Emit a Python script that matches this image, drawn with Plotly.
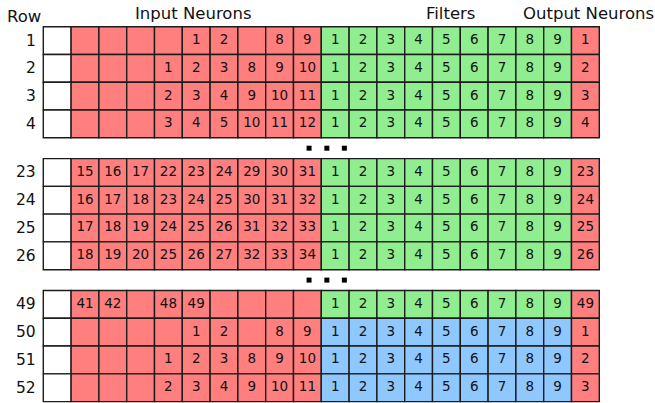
import plotly.graph_objects as go

# ---- data ----
row_labels = ["1", "2", "3", "4", "23", "24", "25", "26", "49", "50", "51", "52"]
section_of_row = [0, 0, 0, 0, 1, 1, 1, 1, 2, 2, 2, 2]
input_neurons = [
    ["", "", "", "", "1", "2", "", "8", "9"],
    ["", "", "", "1", "2", "3", "8", "9", "10"],
    ["", "", "", "2", "3", "4", "9", "10", "11"],
    ["", "", "", "3", "4", "5", "10", "11", "12"],
    ["15", "16", "17", "22", "23", "24", "29", "30", "31"],
    ["16", "17", "18", "23", "24", "25", "30", "31", "32"],
    ["17", "18", "19", "24", "25", "26", "31", "32", "33"],
    ["18", "19", "20", "25", "26", "27", "32", "33", "34"],
    ["41", "42", "", "48", "49", "", "", "", ""],
    ["", "", "", "", "1", "2", "", "8", "9"],
    ["", "", "", "1", "2", "3", "8", "9", "10"],
    ["", "", "", "2", "3", "4", "9", "10", "11"],
]
filter_labels = ["1", "2", "3", "4", "5", "6", "7", "8", "9"]
filter_set = ["A", "A", "A", "A", "A", "A", "A", "A", "A", "B", "B", "B"]
output_neurons = ["1", "2", "3", "4", "23", "24", "25", "26", "49", "1", "2", "3"]
headers = ["Row", "Input Neurons", "Filters", "Output Neurons"]

# ---- styles ----
RED = "#ff7f7f"
GREEN = "#90ee90"
BLUE = "#8fc7ff"
WHITE = "#ffffff"
EDGE = "#1c1c1c"
FONT = "DejaVu Sans"
filter_color = {"A": GREEN, "B": BLUE}
GAP = 0.75

W, H = 655, 403
px_per_unit_x = 27.8
px_per_unit_y = 27.77
x0_px, y0_px = 43.3, 26.7

fig = go.Figure()
shapes = []
tx, ty, tt = [], [], []
annotations = []


def row_top(i):
    return i + section_of_row[i] * GAP


for i, lab in enumerate(row_labels):
    top = row_top(i)
    cells = [("", WHITE)]
    cells += [(v, RED) for v in input_neurons[i]]
    cells += [(v, filter_color[filter_set[i]]) for v in filter_labels]
    cells += [(output_neurons[i], RED)]
    for j, (txt, col) in enumerate(cells):
        shapes.append(dict(type="rect", xref="x", yref="y", x0=j, x1=j + 1,
                           y0=top, y1=top + 1, fillcolor=col,
                           line=dict(color=EDGE, width=1.4), layer="below"))
        if txt:
            tx.append(j + 0.5)
            ty.append(top + 0.5)
            tt.append(txt)
    annotations.append(dict(x=-0.2, y=top + 0.5, xref="x", yref="y", text=lab,
                            showarrow=False, xanchor="right", yanchor="middle",
                            font=dict(family=FONT, size=15.5, color="#111")))

fig.add_trace(go.Scatter(x=tx, y=ty, text=tt, mode="text",
                         textfont=dict(family=FONT, size=13.5, color="#111"),
                         hoverinfo="skip", showlegend=False))

# ellipsis dots between sections
dot_x, dot_y = [], []
for s in range(2):
    gy = 4 * (s + 1) + s * GAP + GAP / 2
    for dx in (9.56, 10.2, 10.83):
        dot_x.append(dx)
        dot_y.append(gy)
fig.add_trace(go.Scatter(x=dot_x, y=dot_y, mode="markers",
                         marker=dict(symbol="square", size=5, color="#000"),
                         hoverinfo="skip", showlegend=False))

header_x = [-0.68, 5.39, 14.66, 19.6]
header_y = [-0.36, -0.46, -0.46, -0.46]
for hx, hy, h in zip(header_x, header_y, headers):
    annotations.append(dict(x=hx, y=hy, xref="x", yref="y", text=h,
                            showarrow=False, xanchor="center", yanchor="middle",
                            font=dict(family=FONT, size=16.5, color="#111")))

xr = [-x0_px / px_per_unit_x, (W - x0_px) / px_per_unit_x]
yr = [(H - y0_px) / px_per_unit_y, -y0_px / px_per_unit_y]

fig.update_layout(
    width=W, height=H, autosize=False,
    margin=dict(l=0, r=0, t=0, b=0),
    paper_bgcolor="white", plot_bgcolor="white",
    shapes=shapes, annotations=annotations,
    xaxis=dict(range=xr, visible=False, fixedrange=True),
    yaxis=dict(range=yr, visible=False, fixedrange=True),
    showlegend=False,
)

fig.write_html("out.html", config={"displayModeBar": False},
               post_script="document.body.style.margin='0';document.body.style.padding='0';")
